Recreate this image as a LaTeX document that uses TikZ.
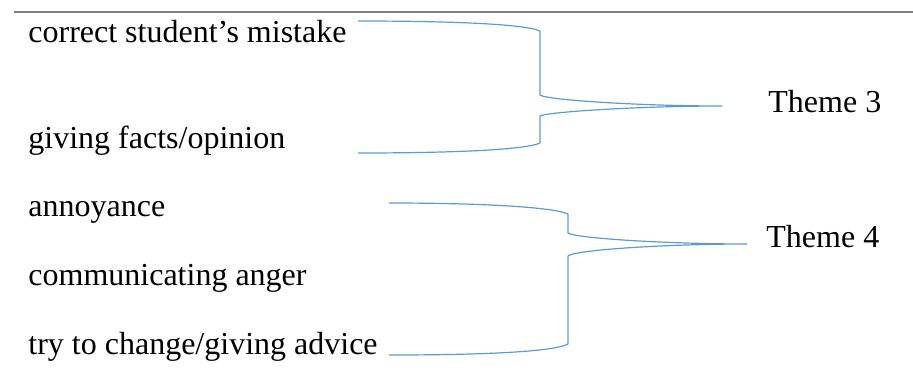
\documentclass[tikz,border=0pt]{standalone}
\usepackage{fontspec}
\setmainfont{Liberation Serif}
\definecolor{bracecol}{RGB}{91,155,213}
\definecolor{rulecol}{RGB}{128,128,128}
\begin{document}
\begin{tikzpicture}[x=0.5pt,y=-0.5pt,
  lbl/.style={anchor=base west,inner sep=0pt,font=\fontsize{16}{19}\selectfont},
  bracel/.style={draw=bracecol,line width=0.6pt,line join=round},
  rulel/.style={draw=rulecol,line width=1pt}]
\useasboundingbox (0,0) rectangle (913,391);
% top rule
\coordinate (r1) at (14,12);
\coordinate (r2) at (913,12);
\draw[rulel] (r1) -- (r2);
% labels
\node[lbl] (a) at (28,42) {correct student’s mistake};
\node[lbl] (b) at (28,148) {giving facts/opinion};
\node[lbl] (c) at (28,216) {annoyance};
\node[lbl] (d) at (28,285) {communicating anger};
\node[lbl] (e) at (28,354) {try to change/giving advice};
\node[lbl] (t3) at (768,112) {Theme 3};
\node[lbl] (t4) at (766,247) {Theme 4};
% brace 1
\coordinate (b1top) at (358,21);
\coordinate (b1c1) at (540,31);
\coordinate (b1c2) at (540,95);
\coordinate (b1tip) at (722,106);
\coordinate (b1c3) at (540,116);
\coordinate (b1c4) at (540,143);
\coordinate (b1bot) at (358,153);
\draw[bracel] (b1top) .. controls (450,21) and (525,24) .. (b1c1) -- (b1c2)
  .. controls (546,100) and (640,106) .. (b1tip)
  .. controls (640,106) and (546,112) .. (b1c3) -- (b1c4)
  .. controls (525,150) and (450,153) .. (b1bot);
% brace 2
\coordinate (b2top) at (389,203);
\coordinate (b2c1) at (568,214);
\coordinate (b2c2) at (568,233);
\coordinate (b2tip) at (747,244);
\coordinate (b2c3) at (568,256);
\coordinate (b2c4) at (568,344);
\coordinate (b2bot) at (389,355);
\draw[bracel] (b2top) .. controls (480,203) and (553,207) .. (b2c1) -- (b2c2)
  .. controls (574,238) and (665,244) .. (b2tip)
  .. controls (665,244) and (574,250) .. (b2c3) -- (b2c4)
  .. controls (553,352) and (480,355) .. (b2bot);
\end{tikzpicture}
\end{document}
